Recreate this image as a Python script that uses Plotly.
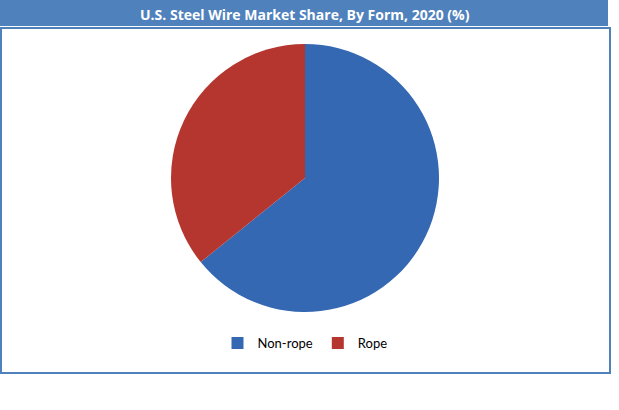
import plotly.graph_objects as go

W, H = 619, 410

forms = ['Non-rope', 'Rope']
shares = [64.2, 35.8]
colors = ['#3468B3', '#B5352F']

title = 'U.S. Steel Wire Market Share, By Form, 2020 (%)'

pie = go.Pie(labels=forms, values=shares, sort=False, direction='clockwise',
             rotation=0, textinfo='none', hoverinfo='label+percent',
             marker=dict(colors=colors, line=dict(width=0)),
             domain=dict(x=[170 / W, 440 / W], y=[1 - 312 / H, 1 - 44 / H]))

fig = go.Figure(data=[pie])

fig.update_layout(
    width=W, height=H,
    margin=dict(l=0, r=0, t=0, b=0),
    paper_bgcolor='white',
    font=dict(family='Lato, Open Sans, sans-serif', color='black'),
    showlegend=True,
    legend=dict(orientation='h', x=305 / W, y=1 - 343 / H,
                xanchor='center', yanchor='middle',
                font=dict(size=13, color='black'),
                itemwidth=30, tracegroupgap=0),
    shapes=[
        # title bar
        dict(type='rect', xref='paper', yref='paper',
             x0=0, x1=608 / W, y0=1 - 26 / H, y1=1,
             fillcolor='#4F81BD', line=dict(width=0), layer='below'),
        # outer border
        dict(type='rect', xref='paper', yref='paper',
             x0=1 / W, x1=610 / W, y0=1 - 373 / H, y1=1 - 28 / H,
             fillcolor='rgba(0,0,0,0)', line=dict(color='#4F81BD', width=2)),
    ],
    annotations=[
        dict(text='<b>' + title + '</b>', xref='paper', yref='paper',
             x=305 / W, y=1 - 14 / H, xanchor='center', yanchor='middle',
             showarrow=False,
             font=dict(family='Open Sans, sans-serif', size=14, color='white')),
    ],
)

# drop the default page margin so the chart sits at the window corner
fig.write_html('out.html', config={'displayModeBar': False},
               post_script="document.body.style.margin='0';")
